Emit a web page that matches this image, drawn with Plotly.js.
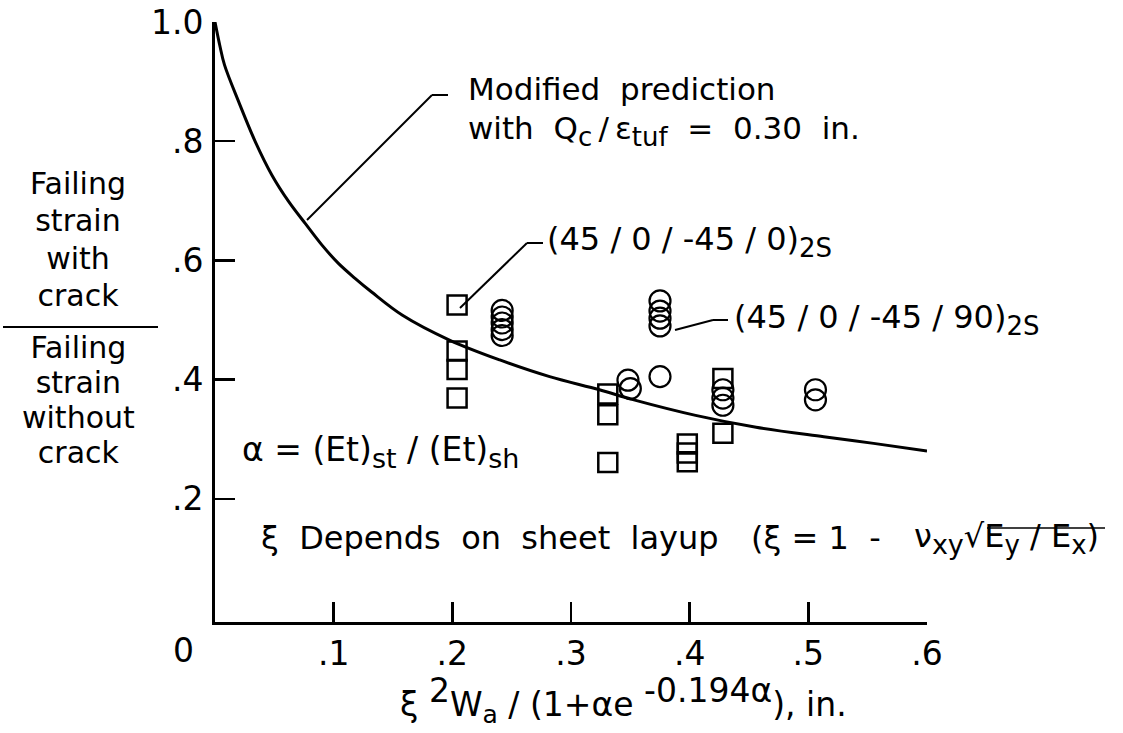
<!DOCTYPE html>
<html>
<head>
<meta charset="utf-8">
<script src="https://cdn.plot.ly/plotly-3.0.1.min.js"></script>
<style>html,body{margin:0;padding:0;background:#fff;}#chart{width:1123px;height:733px;}</style>
</head>
<body>
<div id="chart"></div>
<script>
// Modified prediction curve
const curveX = [0, 0.004, 0.008, 0.020, 0.034, 0.048, 0.062, 0.076, 0.090, 0.104, 0.118, 0.132, 0.158, 0.198, 0.240, 0.282, 0.324, 0.353, 0.405, 0.456, 0.513, 0.555, 0.600];
const curveY = [1.0, 0.961, 0.928, 0.866, 0.799, 0.743, 0.699, 0.662, 0.626, 0.595, 0.570, 0.547, 0.508, 0.466, 0.433, 0.405, 0.383, 0.366, 0.340, 0.320, 0.304, 0.293, 0.280];

// (45/0/-45/0)2S  -> squares
const sqX = [0.204, 0.204, 0.204, 0.204, 0.331, 0.331, 0.331, 0.398, 0.398, 0.398, 0.428, 0.428];
const sqY = [0.525, 0.448, 0.417, 0.369, 0.376, 0.341, 0.261, 0.292, 0.277, 0.262, 0.402, 0.310];

// (45/0/-45/90)2S -> circles
const ciX = [0.242, 0.242, 0.242, 0.242, 0.242, 0.348, 0.350, 0.375, 0.375, 0.375, 0.375, 0.375, 0.428, 0.428, 0.428, 0.506, 0.506];
const ciY = [0.516, 0.505, 0.495, 0.484, 0.474, 0.399, 0.385, 0.532, 0.515, 0.503, 0.490, 0.405, 0.383, 0.369, 0.357, 0.383, 0.366];

const xTickVals = [0.1, 0.2, 0.3, 0.4, 0.5, 0.6];
const xTickText = ['.1', '.2', '.3', '.4', '.5', '.6'];
const yTickVals = [0.2, 0.4, 0.6, 0.8, 1.0];
const yTickText = ['.2', '.4', '.6', '.8', '1.0'];
const yTitleTop = ['Failing', 'strain', 'with', 'crack'];
const yTitleBottom = ['Failing', 'strain', 'without', 'crack'];

const FONT = 'DejaVu Sans, Liberation Sans, Arial, sans-serif';
const W = 1123, H = 733, ML = 215, MR = 196, MT = 22, MB = 111;
const PW = W - ML - MR, PH = H - MT - MB;
const X = px => (px - ML) / PW;          // pixel -> paper
const Y = py => (H - MB - py) / PH;

const traces = [
  {x: curveX, y: curveY, mode: 'lines', line: {color: '#000', width: 3, shape: 'spline', smoothing: 1}, hoverinfo: 'skip'},
  {x: sqX, y: sqY, mode: 'markers', marker: {symbol: 'square-open', size: 19, color: '#000', line: {width: 2.5, color: '#000'}}},
  {x: ciX, y: ciY, mode: 'markers', marker: {symbol: 'circle-open', size: 21, color: '#000', line: {width: 2.2, color: '#000'}}}
];

function ann(text, px, py, size, xanchor, extra) {
  return Object.assign({text: text, xref: 'paper', yref: 'paper', x: X(px), y: Y(py), xanchor: xanchor || 'left', yanchor: 'middle',
    showarrow: false, font: {family: FONT, size: size, color: '#000'}, align: 'left'}, extra || {});
}
const sz = (t, s) => '<span style="font-size:' + s + 'px">' + t + '</span>';
const sub = (t, s) => '<sub>' + sz(t, s) + '</sub>';
const sup = (t, s) => '<sup>' + sz(t, s) + '</sup>';
const T = '\u2009/\u2009';
const S = ' / ';
// base font sets the line pitch (1.3 em); the words themselves are drawn at 30px
const block = lines => lines.map(w => sz(w, 30)).join('<br>');

const annotations = [
  ann('Modified  prediction', 466, 89, 31),
  ann('with  Q' + sub('c', 26) + T + 'ε' + sub('tuf', 26) + '  =  0.30  in.', 466, 131, 31),
  ann('(45' + S + '0' + S + '-45' + S + '0)' + sub('2S', 26), 545, 241, 32),
  ann('(45' + S + '0' + S + '-45' + S + '90)' + sub('2S', 26), 732, 319, 32),
  ann('α = (Et)' + sub('st', 27) + S + '(Et)' + sub('sh', 27), 240, 452, 33),
  ann('ξ  Depends  on  sheet  layup', 259, 538, 32),
  ann('(ξ = 1  -', 749, 538, 32),
  ann('ν' + sub('xy', 27) + '√E' + sub('y', 26) + S + 'E' + sub('x', 26) + ')', 912, 538, 32),
  ann('ξ ' + sup('2', 33) + 'W' + sub('a', 25) + S + '(1+αe ' + sup('-0.194α', 33) + '), in.', 398, 700, 33),
  ann('0', 183, 650, 33, 'center'),
  ann(block(yTitleTop), 78, 240, 28.7, 'center', {align: 'center'}),
  ann(block(yTitleBottom), 78, 399.5, 27.0, 'center', {align: 'center'})
];

const L = (x0, y0, x1, y1, w) => ({type: 'line', xref: 'paper', yref: 'paper', x0: X(x0), y0: Y(y0), x1: X(x1), y1: Y(y1), line: {color: '#000', width: w || 2}});
const shapes = [
  L(307, 220, 432, 95), L(432, 95, 448, 95),
  L(460, 308, 527, 243), L(527, 243, 543, 243),
  L(675, 330, 713, 320), L(713, 320, 728, 320),
  L(3, 327, 158, 327, 2),
  L(987, 528, 1105, 528, 1.5)
];

const layout = {
  width: W, height: H,
  margin: {l: ML, r: MR, t: MT, b: MB, pad: 0},
  paper_bgcolor: '#fff', plot_bgcolor: '#fff',
  showlegend: false,
  font: {family: FONT, color: '#000', size: 33},
  xaxis: {range: [0, 0.6], showgrid: false, zeroline: false, showline: true, linecolor: '#000', linewidth: 3,
    ticks: 'inside', ticklen: 20, tickwidth: 2.5, tickcolor: '#000', tickvals: xTickVals, ticktext: xTickText,
    tickfont: {family: FONT, size: 33, color: '#000'}, ticklabelstandoff: 0, fixedrange: true},
  yaxis: {range: [-0.0067, 1.0], showgrid: false, zeroline: false, showline: true, linecolor: '#000', linewidth: 3,
    ticks: 'inside', ticklen: 20, tickwidth: 2.5, tickcolor: '#000', tickvals: yTickVals, ticktext: yTickText,
    tickfont: {family: FONT, size: 33, color: '#000'}, ticklabelstandoff: 2, fixedrange: true},
  annotations: annotations,
  shapes: shapes
};

Plotly.newPlot('chart', traces, layout, {displayModeBar: false, staticPlot: true});
</script>
</body>
</html>
